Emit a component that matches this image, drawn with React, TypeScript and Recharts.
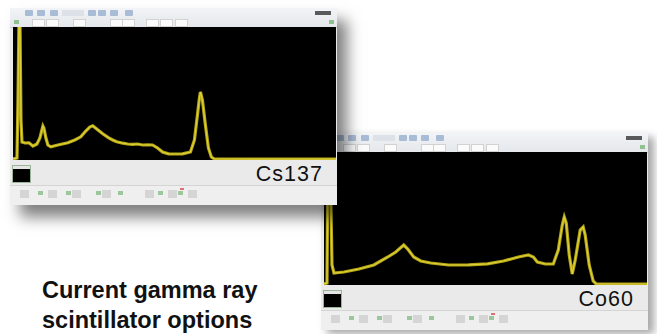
import React from 'react';
import { LineChart, Line, XAxis, YAxis } from 'recharts';

// channel numbers (0..1296) and counts
const csChannels = [0, 16, 20, 24, 28, 32, 36, 48, 64, 80, 96, 108, 116, 120, 124, 132, 140, 152, 180, 220, 248, 272, 292, 308, 320, 336, 360, 384, 400, 416, 440, 460, 480, 500, 520, 540, 560, 580, 600, 624, 648, 680, 712, 728, 740, 748, 752, 760, 772, 784, 796, 808, 1040, 1296];
const csCounts = [10, 20, 600, 1400, 1400, 400, 180, 170, 172, 140, 160, 220, 300, 340, 320, 220, 150, 132, 150, 172, 200, 232, 290, 330, 342, 310, 262, 222, 200, 182, 168, 160, 156, 160, 150, 152, 150, 120, 80, 62, 60, 62, 80, 200, 450, 620, 680, 600, 350, 120, 30, 10, 8, 8];

const coChannels = [0, 12, 16, 24, 32, 40, 80, 140, 200, 256, 288, 320, 336, 360, 388, 428, 500, 580, 656, 720, 780, 820, 840, 856, 888, 920, 940, 956, 964, 972, 984, 996, 1008, 1028, 1040, 1048, 1064, 1080, 1092, 1296];
const coCounts = [10, 20, 1400, 1400, 200, 120, 130, 160, 200, 280, 330, 400, 360, 280, 240, 220, 200, 202, 212, 240, 280, 300, 280, 230, 210, 210, 350, 600, 680, 620, 300, 110, 250, 550, 580, 500, 200, 40, 10, 10];

const toRows = (ch: number[], counts: number[]) => ch.map((c, i) => ({ ch: c, counts: counts[i] }));

const FONT = '"Liberation Sans", Arial, Helvetica, sans-serif';

const Toolbar: React.FC = () => (
  <div style={{ position: 'absolute', left: 0, top: 0, width: '100%', height: 19, background: 'linear-gradient(#f2f4f7, #e4e7eb)', borderBottom: '1px solid #c9ccd0' }}>
    {[15, 27, 40, 78, 88, 100, 115].map((x) => (
      <div key={x} style={{ position: 'absolute', left: x, top: 2, width: 8, height: 6, background: '#a9bcd6', borderRadius: 1 }} />
    ))}
    <div style={{ position: 'absolute', left: 52, top: 2, width: 22, height: 6, background: '#dde2e8' }} />
    <div style={{ position: 'absolute', right: 6, top: 3, width: 16, height: 4, background: '#5a5a5a' }} />
    {[22, 36, 63, 100, 112, 136, 150, 165].map((x) => (
      <div key={x} style={{ position: 'absolute', left: x, top: 11, width: 11, height: 6, background: '#fbfbfb', border: '1px solid #d2d2d2' }} />
    ))}
    <div style={{ position: 'absolute', left: 4, top: 12, width: 5, height: 4, background: '#8fc08f' }} />
    <div style={{ position: 'absolute', right: 3, top: 12, width: 5, height: 4, background: '#8fc08f' }} />
  </div>
);

const BottomStrip: React.FC = () => (
  <div style={{ position: 'absolute', left: 0, bottom: 0, width: '100%', height: 19, background: '#efefef', borderTop: '1px solid #d4d4d4' }}>
    {[10, 38, 62, 92, 135, 158, 178].map((x) => (
      <div key={x} style={{ position: 'absolute', left: x, top: 4, width: 9, height: 8, background: '#d5d5d5' }} />
    ))}
    {[28, 56, 86, 108, 148, 168].map((x) => (
      <div key={x} style={{ position: 'absolute', left: x, top: 5, width: 5, height: 4, background: '#9cc79c' }} />
    ))}
    <div style={{ position: 'absolute', left: 170, top: 2, width: 4, height: 2, background: '#e07070' }} />
  </div>
);

interface PanelProps {
  left: number;
  top: number;
  channels: number[];
  counts: number[];
  label: string;
  z: number;
  shadow: string;
}

const SpectrumPanel: React.FC<PanelProps> = ({ left, top, channels, counts, label, z, shadow }) => {
  const data = toRows(channels, counts);
  return (
    <div style={{ position: 'absolute', left, top, width: 327, height: 197, background: '#eaeaea', boxShadow: shadow, zIndex: z }}>
      <Toolbar />
      <div style={{ position: 'absolute', left: 3, top: 19, width: 323, height: 133, background: '#000' }}>
        <LineChart width={323} height={133} data={data} margin={{ top: 0, right: 0, bottom: 0, left: 0 }}>
          <XAxis type="number" dataKey="ch" domain={[0, 1296]} hide />
          <YAxis type="number" domain={[0, 1330]} allowDataOverflow hide />
          <Line type="linear" dataKey="counts" stroke="#b3a512" strokeWidth={3.2} dot={false} isAnimationActive={false} />
          <Line type="linear" dataKey="counts" stroke="#ddd03a" strokeWidth={1.2} dot={false} isAnimationActive={false} />
        </LineChart>
      </div>
      <div style={{ position: 'absolute', left: 3, top: 158, width: 17, height: 13, background: '#000', borderTop: '3px solid #e4e4e4', outline: '1px solid #9bb59b' }} />
      <BottomStrip />
      <div style={{ position: 'absolute', right: 14, top: 154, fontFamily: FONT, fontSize: 21.5, letterSpacing: 1, color: '#111', lineHeight: '24px', zIndex: 3 }}>
        {label}
      </div>
    </div>
  );
};

const App: React.FC = () => (
  <div style={{ position: 'fixed', left: 0, top: 0, width: 657, height: 334, background: '#fff', overflow: 'hidden' }}>
    <SpectrumPanel left={321} top={133} channels={coChannels} counts={coCounts} label="Co60" z={1} shadow="6px 4px 8px rgba(0,0,0,0.35)" />
    <SpectrumPanel left={10} top={8} channels={csChannels} counts={csCounts} label="Cs137" z={2} shadow="10px 12px 14px rgba(0,0,0,0.5)" />
    <div style={{ position: 'absolute', left: 42, top: 275, fontFamily: FONT, fontWeight: 700, fontSize: 23.5, lineHeight: '30px', color: '#111' }}>
      Current gamma ray
      <br />
      scintillator options
    </div>
  </div>
);

export default App;
